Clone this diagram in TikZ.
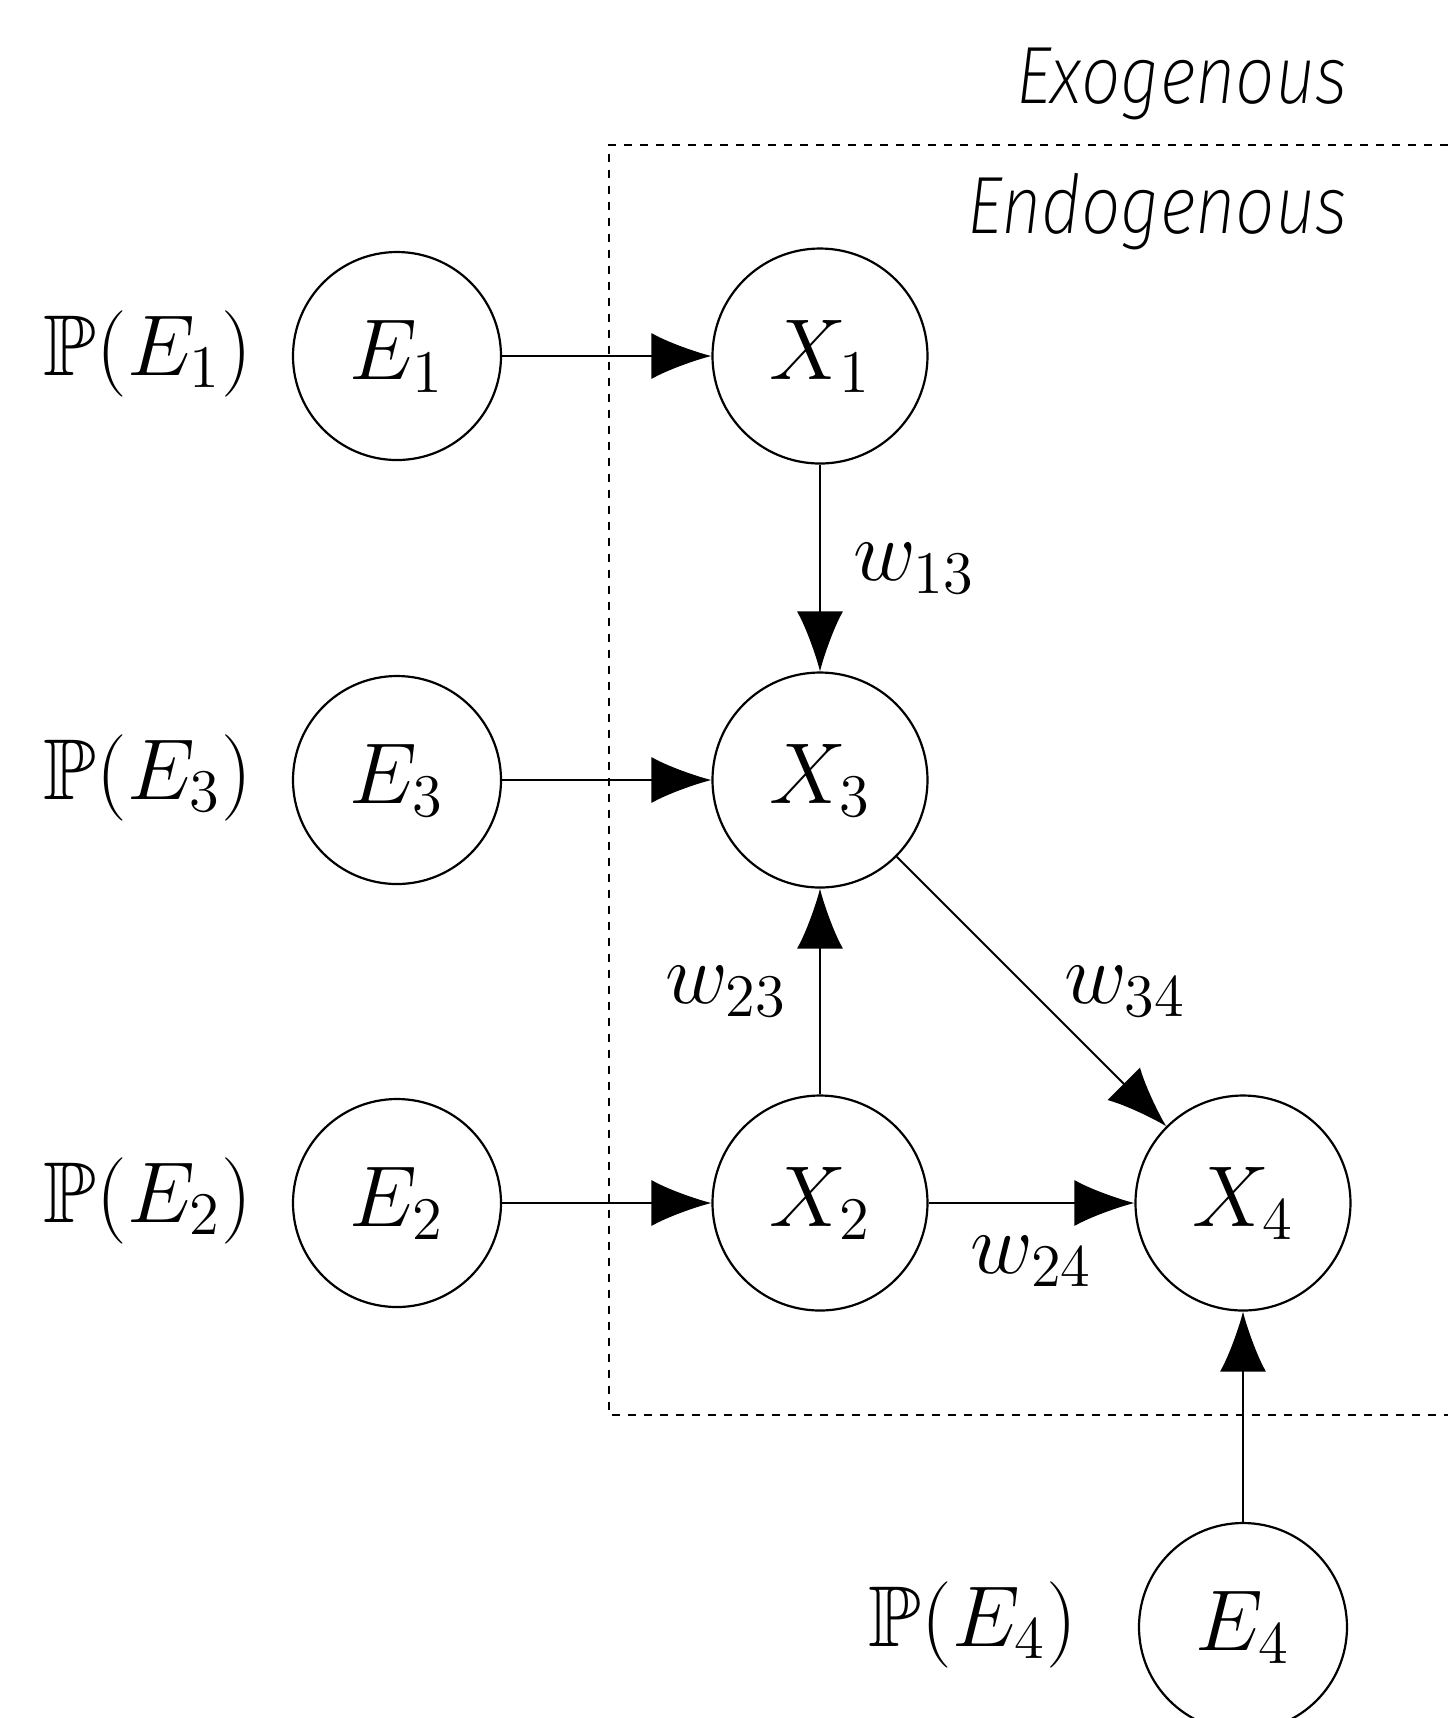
\RequirePackage{fix-cm}
\documentclass[tikz,border=0pt]{standalone}
\usepackage{amssymb}
\usepackage{fontspec}
\newfontfamily\exofont[FakeStretch=0.855]{Fira Sans ExtraLight Italic}
\usetikzlibrary{arrows.meta}
\begin{document}
\begin{tikzpicture}[x=0.25pt,y=-0.25pt,
  every node/.style={font=\fontsize{21.6pt}{26pt}\selectfont},
  enode/.style={draw, circle, line width=0.55pt, minimum size=52pt, inner sep=0pt},
  xnode/.style={draw, circle, line width=0.55pt, minimum size=53.75pt, inner sep=0pt},
  arr/.style={-{Latex[length=15pt,width=11.5pt]}, line width=0.5pt},
  wlab/.style={inner sep=8pt},
  plab/.style={anchor=base east, inner sep=0pt},
  region/.style={font={\exofont\fontsize{20.3pt}{24pt}\selectfont}, anchor=base east, inner sep=0pt},
  box/.style={dash pattern=on 2pt off 2pt, line width=0.5pt}]
\useasboundingbox (0,0) rectangle (1448,1718);
% exogenous nodes
\node[enode] (E1) at (397,356) {$E_1$};
\node[enode] (E3) at (397,780) {$E_3$};
\node[enode] (E2) at (397,1203) {$E_2$};
\node[enode] (E4) at (1243,1627) {$E_4$};
% endogenous nodes
\node[xnode] (X1) at (820,356) {$X_1$};
\node[xnode] (X3) at (820,780) {$X_3$};
\node[xnode] (X2) at (820,1203) {$X_2$};
\node[xnode] (X4) at (1243,1203) {$X_4$};
% distributions
\node[plab] (P1) at (253,375) {$\mathbb{P}(E_1)$};
\node[plab] (P3) at (253,799) {$\mathbb{P}(E_3)$};
\node[plab] (P2) at (253,1222) {$\mathbb{P}(E_2)$};
\node[plab] (P4) at (1078,1646) {$\mathbb{P}(E_4)$};
% region labels
\node[region] (exo) at (1348,103) {Exogenous};
\node[region] (endo) at (1348,233) {Endogenous};
% dashed box
\coordinate (bTR) at (1448,145);
\coordinate (bBR) at (1448,1415);
\draw[box] (bTR) -| (609,1415) -- (bBR);
% edges
\draw[arr] (E1) -- (X1);
\draw[arr] (E3) -- (X3);
\draw[arr] (E2) -- (X2);
\draw[arr] (E4) -- (X4);
\draw[arr] (X1) -- node[right, wlab] {$w_{13}$} (X3);
\draw[arr] (X2) -- node[left, wlab] {$w_{23}$} (X3);
\draw[arr] (X3) -- node[right, wlab] {$w_{34}$} (X4);
\draw[arr] (X2) -- node[below, wlab] {$w_{24}$} (X4);
\end{tikzpicture}
\end{document}
